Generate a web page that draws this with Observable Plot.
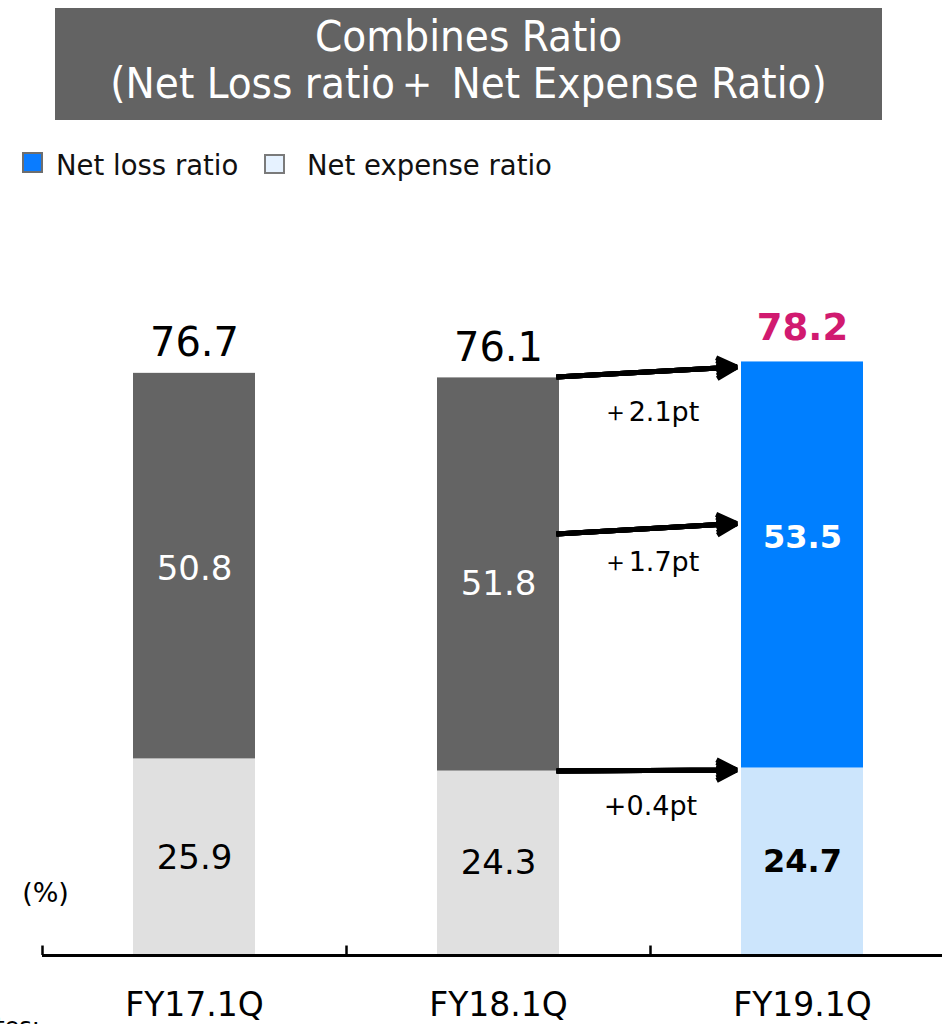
<!DOCTYPE html>
<html>
<head>
<meta charset="utf-8">
<script src="https://cdn.jsdelivr.net/npm/d3@7"></script>
<script src="https://cdn.jsdelivr.net/npm/@observablehq/plot@0.6"></script>
<style>
  html, body { margin: 0; padding: 0; background: #fff; }
  #page { position: relative; width: 942px; height: 1024px; overflow: hidden; font-family: "DejaVu Sans", Verdana, sans-serif; }
  #title { position: absolute; left: 55px; top: 8px; width: 827px; height: 112px; background: #636363; color: #fff;
    font-family: "DejaVu Sans Condensed", "DejaVu Sans", sans-serif; font-stretch: condensed; font-size: 43.5px; line-height: 47px;
    text-align: center; box-sizing: border-box; padding-top: 5px; }
  #legend { position: absolute; left: 0; top: 146px; height: 40px; font-size: 27.5px; color: #111; }
  .sw { position: absolute; width: 21px; height: 21px; box-sizing: border-box; border: 2px solid #6e6e6e; }
  .lt { position: absolute; top: 0; line-height: 38px; white-space: nowrap; }
  #chart { position: absolute; left: 0; top: 200px; }
</style>
</head>
<body>
<div id="page">
  <div id="title">Combines Ratio<br>(Net Loss ratio＋ Net Expense Ratio)</div>
  <div id="legend">
    <div class="sw" style="left:22px; top:6px; background:#0a7cff;"></div><div class="lt" style="left:56px;">Net loss ratio</div>
    <div class="sw" style="left:264px; top:8px; width:21px; height:20px; background:#e6f2ff; border-color:#7a7a7a;"></div><div class="lt" style="left:307px;">Net expense ratio</div>
  </div>
  <div id="chart"></div>
</div>
<script>
const categories = ["FY17.1Q", "FY18.1Q", "FY19.1Q"];
const netLoss = [50.8, 51.8, 53.5];
const netExpense = [25.9, 24.3, 24.7];
const totals = [76.7, 76.1, 78.2];
const changeLabels = ["＋2.1pt", "＋1.7pt", "+0.4pt"];
const arrowFromY = [75.8, 55.1, 24.25];
const arrowToY = [78.0, 57.4, 24.5];
const changeLabelY = [71.5, 51.8, 19.6];
const unitLabel = "(%)";
const unitLabelY = 8.2;
const notesLabel = "Notes:";

const rows = categories.flatMap((c, i) => [
  {cat: c, seg: "exp", v: netExpense[i], key: i === 2 ? "cur-exp" : "past-exp", mid: netExpense[i] / 2},
  {cat: c, seg: "loss", v: netLoss[i], key: i === 2 ? "cur-loss" : "past-loss", mid: netExpense[i] + netLoss[i] / 2}
]);
const totalRows = categories.map((c, i) => ({cat: c, v: totals[i]}));
const arrows = changeLabels.map((t, i) => ({from: categories[1], to: categories[2], y1: arrowFromY[i], y2: arrowToY[i], label: t, ly: changeLabelY[i]}));

const seg = (cat, s) => rows.filter(d => d.cat === cat && d.seg === s);

// filled arrowheads built from several chevrons of varying angle
const headSpec = [[55, 22.5], [42, 21.5], [28, 20.6], [14, 20.2], [4, 20]];
const arrowMarks = headSpec.map(([ang, len]) => Plot.arrow(arrows, {
  x1: "from", x2: "to", y1: "y1", y2: "y2",
  insetStart: 58, insetEnd: 66,
  headAngle: ang, headLength: len * 1.5 / 5,
  strokeWidth: 5, stroke: "#000", strokeLinecap: "butt"
}));

const chart = Plot.plot({
  width: 942,
  height: 824,
  marginLeft: 42,
  marginRight: 0,
  marginTop: 0,
  marginBottom: 0,
  style: {fontFamily: "DejaVu Sans, Verdana, sans-serif", background: "transparent", overflow: "visible"},
  x: {domain: categories, range: [42, 954], paddingInner: 0.6, paddingOuter: 0.3, axis: null},
  y: {domain: [0, 100], range: [755, -4], axis: null},
  color: {domain: ["past-exp", "past-loss", "cur-exp", "cur-loss"], range: ["#e0e0e0", "#646464", "#cce5fc", "#007fff"]},
  marks: [
    Plot.barY(rows, {x: "cat", y: "v", fill: "key"}),
    Plot.ruleY([0], {strokeWidth: 3, stroke: "#000"}),
    Plot.ruleX(categories, {x: d => d, y1: 0, y2: 1.25, dx: -152, strokeWidth: 2.5, stroke: "#000"}),
    Plot.text(categories, {x: d => d, y: 0, text: d => d, dy: 50, fontSize: 33, fill: "#000"}),
    // totals
    Plot.text(totalRows.slice(0, 2), {x: "cat", y: "v", text: d => d.v.toFixed(1), dy: -30, fontSize: 40, fill: "#000"}),
    Plot.text(totalRows.slice(2), {x: "cat", y: "v", text: d => d.v.toFixed(1), dy: -34, fontSize: 37, fontWeight: "bold", fill: "#d11a70"}),
    // segment labels
    Plot.text(seg("FY17.1Q", "loss"), {x: "cat", y: "mid", text: d => d.v.toFixed(1), dy: 3, fontSize: 34, fill: "#fff"}),
    Plot.text(seg("FY17.1Q", "exp"), {x: "cat", y: "mid", text: d => d.v.toFixed(1), dy: 1, fontSize: 34, fill: "#000"}),
    Plot.text(seg("FY18.1Q", "loss"), {x: "cat", y: "mid", text: d => d.v.toFixed(1), dy: 10, fontSize: 34, fill: "#fff"}),
    Plot.text(seg("FY18.1Q", "exp"), {x: "cat", y: "mid", text: d => d.v.toFixed(1), dy: 0, fontSize: 34, fill: "#000"}),
    Plot.text(seg("FY19.1Q", "loss"), {x: "cat", y: "mid", text: d => d.v.toFixed(1), dy: -27, fontSize: 32, fontWeight: "bold", fill: "#fff"}),
    Plot.text(seg("FY19.1Q", "exp"), {x: "cat", y: "mid", text: d => d.v.toFixed(1), dy: 0, fontSize: 32, fontWeight: "bold", fill: "#000"}),
    // arrows and change labels
    ...arrowMarks,
    Plot.text(arrows, {x: "to", y: "ly", text: "label", dx: -152, fontSize: 27, fill: "#000"}),
    // unit label
    Plot.text([unitLabel], {x: () => categories[0], y: () => unitLabelY, text: d => d, dx: -149, fontSize: 27, fill: "#000"}),
    // cut-off notes label
    Plot.text([notesLabel], {frameAnchor: "bottom-left", text: d => d, dx: -80, dy: 10, textAnchor: "start", fontSize: 24, fill: "#000"})
  ]
});
document.getElementById("chart").appendChild(chart);
</script>
</body>
</html>
